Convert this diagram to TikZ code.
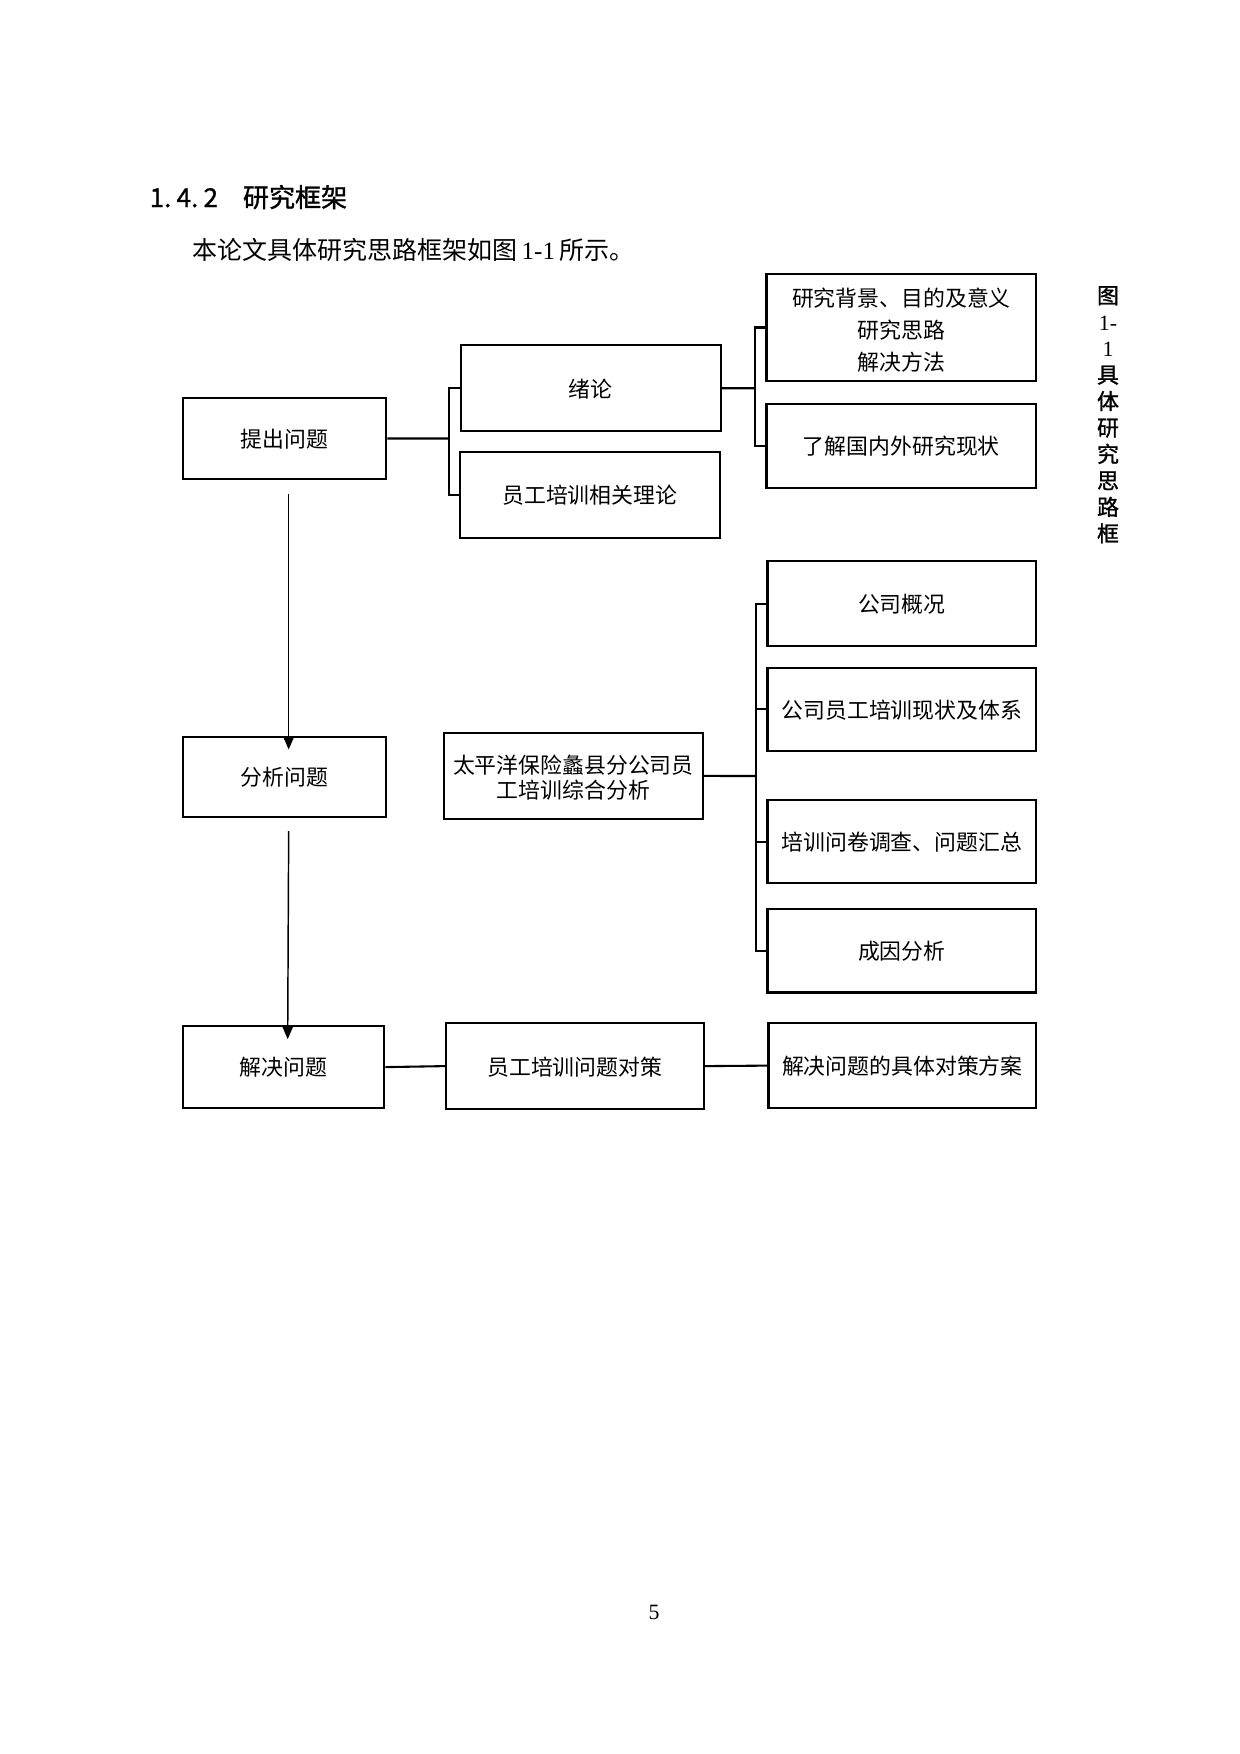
\documentclass[tikz,border=0pt]{standalone}
\usepackage{fontspec}
\setmainfont{Liberation Serif}
\newfontfamily\cjk{Noto Sans CJK SC}
\newfontfamily\cjkb{Noto Sans CJK SC}[FakeBold=1.2]
\usetikzlibrary{fit,arrows.meta,calc}
\begin{document}
\begin{tikzpicture}[x=0.48pt,y=-0.48pt,
  box/.style={draw, line width=1pt, inner sep=0pt},
  lbl/.style={inner sep=0pt, anchor=north, align=center,
              font=\cjk\fontsize{10.5}{15.4}\selectfont},
  link/.style={line width=1pt},
  flow/.style={line width=0.7pt, -{Triangle[length=6pt,width=5pt]}},
  plain/.style={inner sep=0pt}]
\useasboundingbox (0,0) rectangle (1240,1754);
\begin{scope}[scale=0.9955]

% heading and body text
\node[plain, anchor=west, font=\cjkb\fontsize{12.5}{15}\selectfont] (head) at (150,198)
  {1.\kern2.5pt4.\kern2.5pt2\hspace{12pt}研究框架};
\node[plain, anchor=west, font=\fontsize{12}{15}\selectfont] (intro) at (193,251)
  {{\cjk 本论文具体研究思路框架如图}\,1-1\,{\cjk 所示。}};

% vertical caption
\node[plain, anchor=north, align=center, font=\fontsize{10.5}{12.7}\selectfont] (cap) at (1113,287)
  {{\cjkb 图}\\1-\\1\\{\cjkb 具}\\{\cjkb 体}\\{\cjkb 研}\\{\cjkb 究}\\{\cjkb 思}\\{\cjkb 路}\\{\cjkb 框}};

% boxes
\node[box, fit={(184,400)(388,481)}] (q1) {};
\node[box, fit={(184,740)(388,821)}] (q2) {};
\node[box, fit={(184,1031)(386,1113)}] (q3) {};
\node[box, fit={(463,347)(724,433)}] (xl) {};
\node[box, fit={(462,454)(723,540)}] (ll) {};
\node[box, fit={(770,275)(1041,383)}] (bj) {};
\node[box, fit={(770,406)(1041,490)}] (xz) {};
\node[box, fit={(446,736)(706,823)}] (tp) {};
\node[box, fit={(771,564)(1041,649)}] (c1) {};
\node[box, fit={(771,671)(1041,754)}] (c2) {};
\node[box, fit={(771,804)(1041,887)}] (c3) {};
\node[box, fit={(771,913)(1041,997)}] (c4) {};
\node[box, fit={(448,1028)(707,1114)}] (s1) {};
\node[box, fit={(772,1028)(1041,1113)}] (s2) {};

% box texts
\node[lbl] (tq1) at ($(q1.center)+(0,-10)$) {提出问题};
\node[lbl] (tq2) at ($(q2.center)+(0,-10)$) {分析问题};
\node[lbl] (tq3) at ($(q3.center)+(0,-10)$) {解决问题};
\node[lbl] (txl) at ($(xl.center)+(0,-10)$) {绪论};
\node[lbl] (tll) at ($(ll.center)+(0,-10)$) {员工培训相关理论};
\node[lbl] (tbj) at (905.5,289) {研究背景、目的及意义\\研究思路\\解决方法};
\node[lbl] (txz) at ($(xz.center)+(0,-10)$) {了解国内外研究现状};
\node[lbl, font=\cjk\fontsize{10.5}{11.8}\selectfont] (ttp) at (576,758) {太平洋保险蠡县分公司员\\工培训综合分析};
\node[lbl] (tc1) at ($(c1.center)+(0,-10)$) {公司概况};
\node[lbl] (tc2) at ($(c2.center)+(0,-10)$) {公司员工培训现状及体系};
\node[lbl] (tc3) at ($(c3.center)+(0,-10)$) {培训问卷调查、问题汇总};
\node[lbl] (tc4) at ($(c4.center)+(0,-10)$) {成因分析};
\node[lbl] (ts1) at ($(s1.center)+(0,-10)$) {员工培训问题对策};
\node[lbl] (ts2) at ($(s2.center)+(0,-10)$) {解决问题的具体对策方案};

% junctions
\coordinate (jA) at (451,440.5);
\coordinate (jB) at (758,390);
\coordinate (jC) at (759,779.5);

% brackets
\draw[link] (q1.east) -- (jA);
\draw[link] (xl.west) -| (jA) |- (ll.west);
\draw[link] (xl.east) -- (jB);
\draw[link] (bj.west) -| (jB) |- (xz.west);
\draw[link] (tp.east) -- (jC);
\draw[link] (c1.west) -| (jC) |- (c4.west);
\draw[link] (c2.west) -- (c2.west -| jC);
\draw[link] (c3.west) -- (c3.west -| jC);

% bottom row
\draw[link] (q3.east) -- (s1.west);
\draw[link] (s1.east) -- (s2.west);

% vertical arrows
\draw[flow] ($(q1.south)+(4,14)$) -- ($(q2.north)+(4,14)$);
\draw[flow] ($(q2.south)+(4,13)$) -- ($(q3.north)+(4,14)$);

% page number
\node[plain, font=\fontsize{10.5}{12}\selectfont] (pg) at (657,1620) {5};
\end{scope}
\end{tikzpicture}
\end{document}
